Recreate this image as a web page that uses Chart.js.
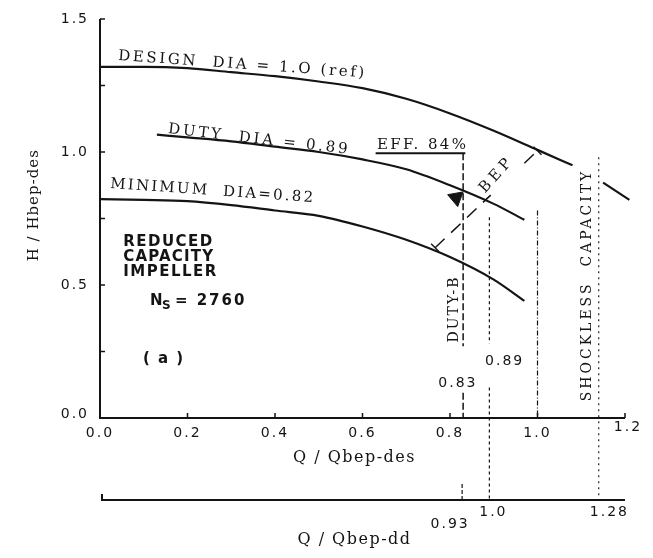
<!DOCTYPE html>
<html><head><meta charset="utf-8">
<script src="https://cdn.jsdelivr.net/npm/chart.js@4.4.0/dist/chart.umd.min.js"></script>
<style>html,body{margin:0;padding:0;background:#fff}#wrap{width:653px;height:558px}</style>
</head><body><div id="wrap"><canvas id="c" width="653" height="558"></canvas></div>
<script>
// ---- axis ticks ----
const xTicks = [0.0, 0.2, 0.4, 0.6, 0.8, 1.0, 1.2];
const yTicks = [0.0, 0.5, 1.0, 1.5];
const yMinorTicks = [0.25, 0.75, 1.25];
const ddTicks = [0.93, 1.0, 1.28];
const ddLabels = ['0.93', '1.0', '1.28'];
const ddRatio = 0.89; // Q/Qbep-dd = (Q/Qbep-des) / 0.89

// ---- head curves (Q/Qbep-des, H/Hbep-des) ----
const designQ = [0, 0.1, 0.2, 0.3, 0.4, 0.5, 0.6, 0.7, 0.8, 0.9, 1.0, 1.08, 1.11, 1.15, 1.21];
const designH = [1.32, 1.32, 1.315, 1.30, 1.285, 1.265, 1.24, 1.20, 1.145, 1.08, 1.008, 0.95, null, 0.885, 0.82];
const dutyQ = [0.13, 0.2, 0.3, 0.4, 0.5, 0.6, 0.7, 0.8, 0.9, 0.97];
const dutyH = [1.065, 1.055, 1.04, 1.02, 1.0, 0.972, 0.935, 0.875, 0.805, 0.745];
const minQ = [0, 0.1, 0.2, 0.3, 0.4, 0.5, 0.6, 0.7, 0.8, 0.9, 0.97];
const minH = [0.823, 0.82, 0.815, 0.80, 0.78, 0.76, 0.72, 0.67, 0.605, 0.52, 0.44];

// ---- reference lines ----
const dutyBQ = [0.83, 0.83, 0.83, 0.83, 0.83];
const dutyBH = [0.995, 0.27, null, 0.095, 0.0];
const effQ = [0.63, 0.835];
const effH = [0.995, 0.995];
const bep89Q = [0.89, 0.89, 0.89, 0.89, 0.89];
const bep89H = [0.755, 0.28, null, 0.115, -0.31];
const bepDesQ = [1.0, 1.0];
const bepDesH = [0.78, 0.0];
const shocklessQ = [1.14, 1.14];
const shocklessH = [0.98, -0.31];
const bepLineQ = [0.766, 0.893, 0.93, 0.97, 1.0];
const bepLineH = [0.64, 0.838, null, 0.958, 1.005];
const arrowQ = [0.814];
const arrowH = [0.828];

const pts = (xs, ys) => xs.map((x, i) => ({x: x, y: ys[i]}));

const INK = '#141414';
function lineDs(data, opts) {
  return Object.assign({
    data: data, borderColor: INK, borderWidth: 2, pointRadius: 0,
    fill: false, clip: false, spanGaps: false, tension: 0
  }, opts || {});
}

const datasets = [
  lineDs(pts(designQ, designH), {cubicInterpolationMode: 'monotone', borderWidth: 2.2}),
  lineDs(pts(dutyQ, dutyH), {cubicInterpolationMode: 'monotone', borderWidth: 2.2}),
  lineDs(pts(minQ, minH), {cubicInterpolationMode: 'monotone', borderWidth: 2.2}),
  lineDs(pts(dutyBQ, dutyBH), {borderWidth: 1.5, borderDash: [7, 3]}),
  lineDs(pts(effQ, effH), {borderWidth: 2}),
  lineDs(pts(bep89Q, bep89H), {borderWidth: 1.2, borderDash: [3, 3]}),
  lineDs(pts(bepDesQ, bepDesH), {borderWidth: 1.2, borderDash: [5, 2, 1, 2]}),
  lineDs(pts(shocklessQ, shocklessH), {borderWidth: 1.1, borderDash: [2, 4]}),
  lineDs(pts(bepLineQ, bepLineH), {borderWidth: 1.5, borderDash: [13, 9]}),
  lineDs(pts(arrowQ, arrowH), {showLine: false, pointRadius: 9, pointStyle: 'triangle',
    rotation: 170, pointBackgroundColor: INK, pointBorderColor: INK, pointBorderWidth: 1})
];

function txt(ctx, s, x, y, o) {
  o = o || {};
  ctx.save();
  ctx.translate(x, y);
  if (o.angle) ctx.rotate(o.angle * Math.PI / 180);
  ctx.font = o.font || '14px "DejaVu Serif"';
  ctx.fillStyle = INK;
  ctx.textAlign = o.align || 'left';
  ctx.textBaseline = o.baseline || 'alphabetic';
  if ('letterSpacing' in ctx) ctx.letterSpacing = (o.spacing || 0) + 'px';
  ctx.fillText(s, 0, 0);
  ctx.restore();
}

const drawPlugin = {
  id: 'drawPlugin',
  afterDatasetsDraw(chart) {
    const ctx = chart.ctx;
    const xs = chart.scales.x, ys = chart.scales.y, x2 = chart.scales.x2;
    const X = v => xs.getPixelForValue(v), Y = v => ys.getPixelForValue(v);
    const x0 = X(0), y0 = Y(0);
    ctx.save();
    ctx.strokeStyle = INK; ctx.lineWidth = 2;
    // axes
    ctx.beginPath();
    ctx.moveTo(x0, Y(1.5)); ctx.lineTo(x0, y0); ctx.lineTo(X(1.2), y0);
    ctx.stroke();
    ctx.lineWidth = 1.5;
    ctx.beginPath();
    yTicks.concat(yMinorTicks).forEach(v => { ctx.moveTo(x0, Y(v)); ctx.lineTo(x0 + 5, Y(v)); });
    xTicks.forEach(v => { if (v > 0) { ctx.moveTo(X(v), y0); ctx.lineTo(X(v), y0 - 5); } });
    ctx.stroke();
    ctx.restore();
    // tick labels
    const tf = '14px "DejaVu Sans"';
    yTicks.forEach(v => txt(ctx, v.toFixed(1), x0 - 11, Y(v) + (v === 0 ? -4 : 0), {font: tf, align: 'right', baseline: 'middle', spacing: 2}));
    xTicks.forEach(v => txt(ctx, v.toFixed(1), X(v) + (v === 1.2 ? 3 : 0), y0 + (v === 1.2 ? 9 : 15), {font: tf, align: 'center', baseline: 'middle', spacing: 2}));
    // titles
    const ttf = '16px "DejaVu Serif"';
    txt(ctx, 'Q / Qbep-des', (X(0) + X(1.2)) / 2 - 8, y0 + 40, {font: ttf, align: 'center', baseline: 'middle', spacing: 1.5});
    txt(ctx, 'H / Hbep-des', 34, Y(0.8), {font: '15px "DejaVu Serif"', align: 'center', baseline: 'middle', angle: -90, spacing: 1});
    // second axis (Q/Qbep-dd)
    const yb = y0 + 82;
    ctx.save();
    ctx.strokeStyle = INK; ctx.lineWidth = 2;
    ctx.beginPath();
    ctx.moveTo(x2.getPixelForValue(0) + 2, yb - 6); ctx.lineTo(x2.getPixelForValue(0) + 2, yb);
    ctx.lineTo(X(1.2), yb);
    ctx.stroke();
    ctx.lineWidth = 1.2; ctx.setLineDash([4, 2]);
    ctx.beginPath();
    ctx.moveTo(x2.getPixelForValue(ddTicks[0]), yb); ctx.lineTo(x2.getPixelForValue(ddTicks[0]), yb - 17);
    ctx.stroke();
    ctx.restore();
    const ddOff = [[-12, 24], [4, 12], [11, 12]];
    ddTicks.forEach((v, i) => txt(ctx, ddLabels[i], x2.getPixelForValue(v) + ddOff[i][0], yb + ddOff[i][1], {font: tf, align: 'center', baseline: 'middle', spacing: 2}));
    txt(ctx, 'Q / Qbep-dd', (X(0) + X(1.2)) / 2 - 8, yb + 40, {font: ttf, align: 'center', baseline: 'middle', spacing: 1.5});
    // curve labels
    const sf = '15px "DejaVu Serif"';
    txt(ctx, 'DESIGN  DIA = 1.O (ref)', X(0.041), Y(1.346), {font: sf, angle: 4, spacing: 2.6});
    txt(ctx, 'DUTY  DIA = 0.89', X(0.155), Y(1.071), {font: sf, angle: 6.5, spacing: 2.8});
    txt(ctx, 'EFF. 84%', X(0.633), Y(1.01), {font: sf, spacing: 2.4});
    txt(ctx, 'MINIMUM  DIA=0.82', X(0.023), Y(0.865), {font: sf, angle: 4, spacing: 2.2});
    const bf = 'bold 15px "DejaVu Sans"';
    txt(ctx, 'REDUCED', X(0.053), Y(0.647), {font: bf, spacing: 1.5});
    txt(ctx, 'CAPACITY', X(0.053), Y(0.59), {font: bf, spacing: 1.2});
    txt(ctx, 'IMPELLER', X(0.053), Y(0.534), {font: bf, spacing: 1.5});
    txt(ctx, 'N', X(0.114), Y(0.425), {font: bf});
    txt(ctx, 'S', X(0.114) + 12, Y(0.425) + 4, {font: 'bold 12px "DejaVu Sans"'});
    txt(ctx, '= 2760', X(0.114) + 25, Y(0.425), {font: bf, spacing: 2});
    txt(ctx, '( a )', X(0.098), Y(0.207), {font: 'bold 15px "DejaVu Sans"', spacing: 1.5});
    const rf = '14px "DejaVu Serif"';
    txt(ctx, 'DUTY-B', X(0.811), Y(0.41), {font: rf, angle: -90, align: 'center', baseline: 'middle', spacing: 2});
    txt(ctx, 'BEP', X(0.907), Y(0.915), {font: '15px "DejaVu Serif"', angle: -48, align: 'center', baseline: 'middle', spacing: 4});
    txt(ctx, 'SHOCKLESS  CAPACITY', X(1.115), Y(0.5), {font: rf, angle: -90, align: 'center', baseline: 'middle', spacing: 3});
    txt(ctx, '0.83', X(0.818), Y(0.13), {font: tf, align: 'center', baseline: 'middle', spacing: 2});
    txt(ctx, '0.89', X(0.925), Y(0.214), {font: tf, align: 'center', baseline: 'middle', spacing: 2});
    // short perpendicular ticks at BEP line ends
    ctx.save();
    ctx.strokeStyle = INK; ctx.lineWidth = 1.5;
    [[bepLineQ[0], bepLineH[0]], [bepLineQ[4], bepLineH[4]]].forEach(p => {
      const px = X(p[0]), py = Y(p[1]);
      ctx.beginPath(); ctx.moveTo(px - 4, py - 4); ctx.lineTo(px + 4, py + 4); ctx.stroke();
    });
    ctx.restore();
  }
};

new Chart(document.getElementById('c'), {
  type: 'line',
  data: {datasets: datasets},
  options: {
    responsive: false, animation: false, devicePixelRatio: 1,
    layout: {padding: {left: 100, right: 28, top: 19, bottom: 140}},
    plugins: {legend: {display: false}, tooltip: {enabled: false}},
    events: [],
    scales: {
      x: {type: 'linear', min: 0, max: 1.2, display: false},
      x2: {type: 'linear', axis: 'x', min: 0, max: 1.2 / ddRatio, display: false},
      y: {type: 'linear', min: 0, max: 1.5, display: false}
    }
  },
  plugins: [drawPlugin]
});
</script>
</body></html>
